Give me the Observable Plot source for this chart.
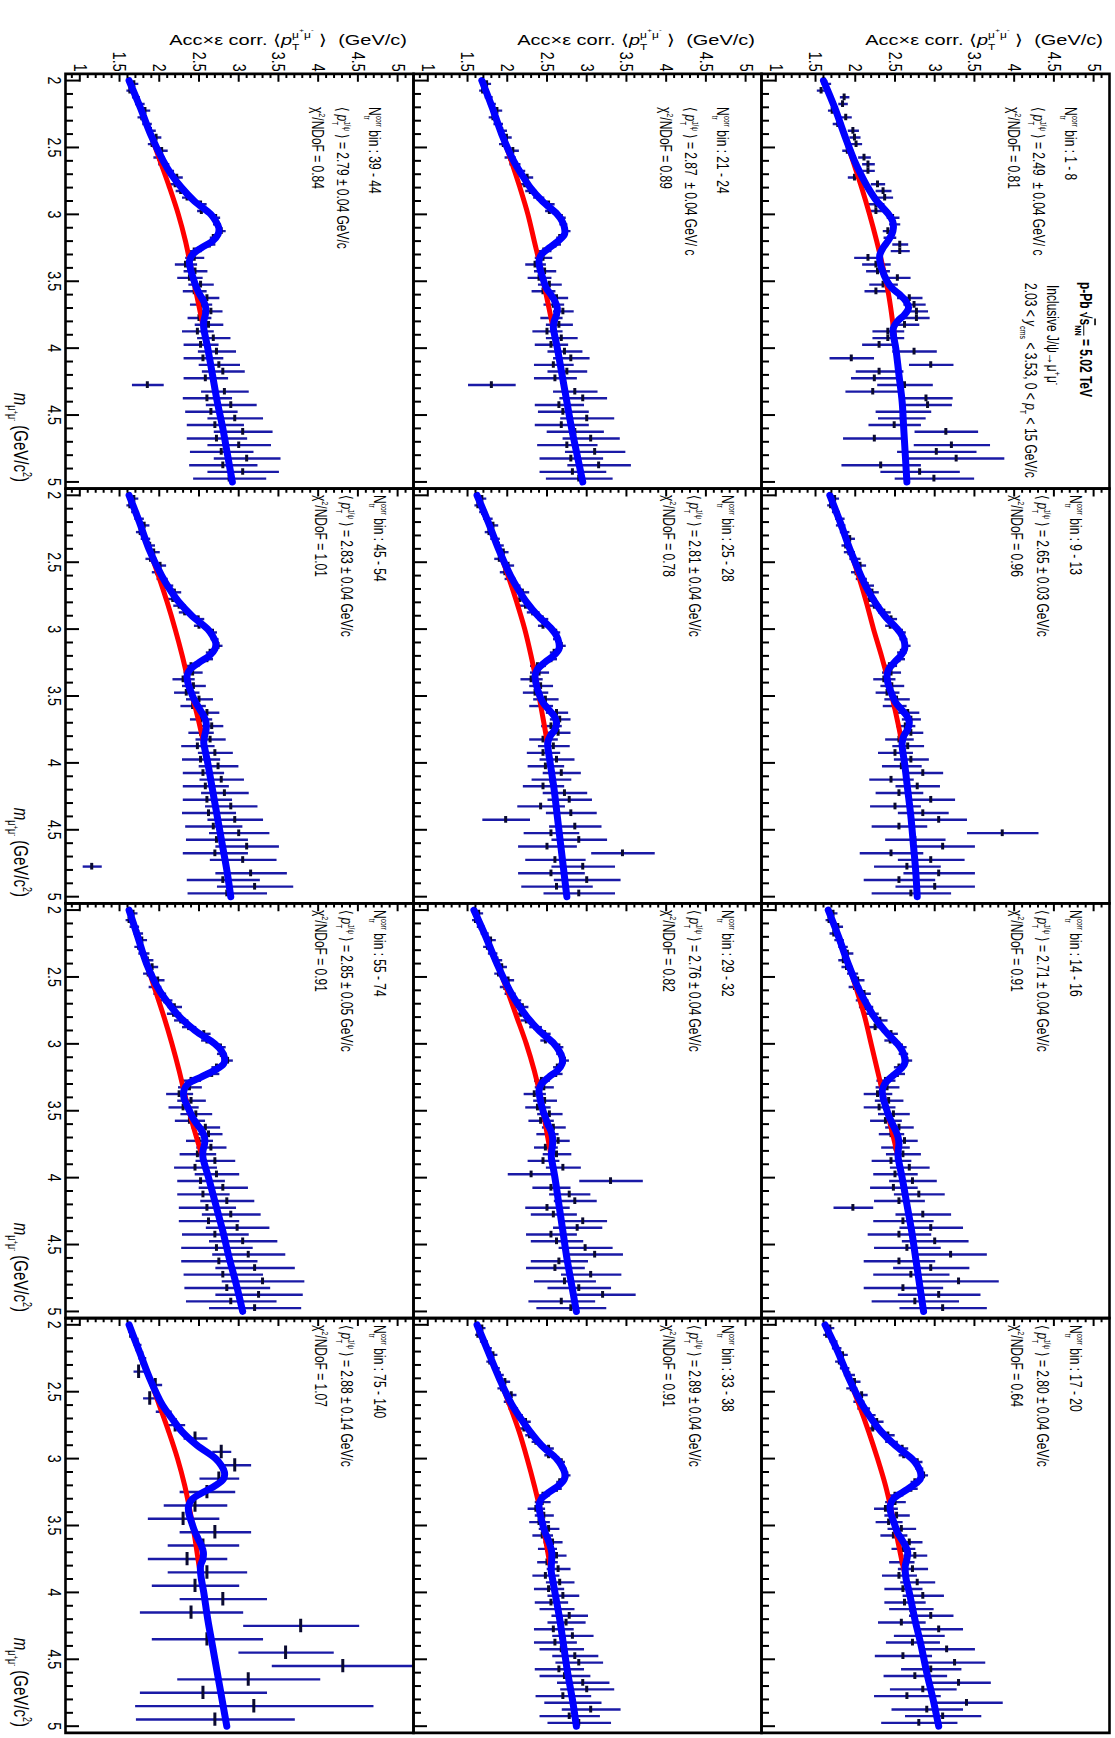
<!DOCTYPE html>
<html><head><meta charset="utf-8">
<script src="https://cdn.jsdelivr.net/npm/d3@7"></script>
<script src="https://cdn.jsdelivr.net/npm/@observablehq/plot@0.6"></script>
<style>
html,body{margin:0;padding:0;overflow:hidden;background:#fff;width:1115px;height:1738px;}
#fig{position:absolute;left:0;top:0;width:1738px;height:1115px;transform-origin:0 0;transform:translate(1115px,0) rotate(90deg);}
#fig svg path,#fig svg line,#fig svg rect{vector-effect:non-scaling-stroke;}
#fig svg text{font-family:"Liberation Sans",Arial,sans-serif;}
</style></head><body><div id="fig"></div><script>
// ---------------- labels ----------------
const binLabels = ["1 - 8","9 - 13","14 - 16","17 - 20","21 - 24","25 - 28","29 - 32","33 - 38","39 - 44","45 - 54","55 - 74","75 - 140"];
const meanText = ["= 2.49  \u00b1 0.04 GeV/ c","= 2.65 \u00b1 0.03 GeV/c","= 2.71 \u00b1 0.04 GeV/c","= 2.80 \u00b1 0.04 GeV/c",
  "= 2.87  \u00b1 0.04 GeV/ c","= 2.81 \u00b1 0.04 GeV/c","= 2.76 \u00b1 0.04 GeV/c","= 2.89 \u00b1 0.04 GeV/c",
  "= 2.79 \u00b1 0.04 GeV/c","= 2.83 \u00b1 0.04 GeV/c","= 2.85 \u00b1 0.05 GeV/c","= 2.88 \u00b1 0.14 GeV/c"];
const chi2 = ["0.81","0.96","0.91","0.64","0.89","0.78","0.82","0.91","0.84","1.01","0.91","1.07"];

const massMajor = [2, 2.5, 3, 3.5, 4, 4.5, 5];
const massMinor = [2.1,2.2,2.3,2.4,2.6,2.7,2.8,2.9,3.1,3.2,3.3,3.4,3.6,3.7,3.8,3.9,4.1,4.2,4.3,4.4,4.6,4.7,4.8,4.9];
const ptMajor = [1, 1.5, 2, 2.5, 3, 3.5, 4, 4.5, 5];
const ptMinor = [0.9,1.1,1.2,1.3,1.4,1.6,1.7,1.8,1.9,2.1,2.2,2.3,2.4,2.6,2.7,2.8,2.9,3.1,3.2,3.3,3.4,3.6,3.7,3.8,3.9,4.1,4.2,4.3,4.4,4.6,4.7,4.8,4.9,5.1];

// ---------------- data points: mass bin centres, <pT>, error ----------------
const massCenters = [2.025,2.075,2.125,2.175,2.225,2.275,2.325,2.375,2.425,2.475,2.525,2.575,2.625,2.675,2.725,2.775,2.825,2.875,2.925,2.975,
  3.025,3.075,3.125,3.175,3.225,3.275,3.325,3.375,3.425,3.475,3.525,3.575,3.625,3.675,3.725,3.775,3.825,3.875,3.925,3.975,
  4.025,4.075,4.125,4.175,4.225,4.275,4.325,4.375,4.425,4.475,4.525,4.575,4.625,4.675,4.725,4.775,4.825,4.875,4.925,4.975];
const massCentersWide = [2.05,2.15,2.25,2.35,2.45,2.55,2.65,2.75,2.85,2.95,3.05,3.15,3.25,3.35,3.45,3.55,3.65,3.75,3.85,3.95,
  4.05,4.15,4.25,4.35,4.45,4.55,4.65,4.75,4.85,4.95];

const pt01 = [1.63,1.57,1.86,1.84,1.71,1.88,1.78,1.97,1.99,2.01,
  1.90,2.11,2.16,2.16,1.99,2.28,2.35,2.37,2.26,2.26,
  2.47,2.49,2.41,2.43,2.56,2.56,2.16,2.26,2.28,2.53,
  2.35,2.26,2.68,2.74,2.77,2.77,2.62,2.41,2.41,2.30,
  2.74,1.95,2.95,2.30,2.24,2.62,2.22,2.89,2.91,2.60,
  2.58,2.49,3.14,2.24,3.21,3.02,3.27,2.32,2.81,2.99];
const er01 = [0.06,0.06,0.06,0.06,0.06,0.07,0.07,0.07,0.07,0.07,
  0.07,0.08,0.08,0.08,0.09,0.09,0.10,0.10,0.10,0.10,
  0.08,0.07,0.07,0.08,0.10,0.12,0.18,0.18,0.15,0.16,
  0.18,0.15,0.16,0.14,0.14,0.16,0.18,0.20,0.20,0.22,
  0.28,0.28,0.28,0.30,0.30,0.35,0.35,0.33,0.30,0.35,
  0.30,0.33,0.40,0.40,0.48,0.50,0.60,0.50,0.50,0.50];

const pt02 = [1.74,1.69,1.75,1.80,1.81,1.86,1.93,1.88,1.92,1.99,
  2.06,2.01,2.07,2.15,2.21,2.18,2.24,2.36,2.45,2.44,
  2.58,2.60,2.64,2.58,2.55,2.43,2.45,2.36,2.46,2.40,
  2.52,2.49,2.66,2.70,2.63,2.70,2.55,2.66,2.50,2.70,
  2.58,2.85,2.45,2.78,2.55,2.95,2.50,2.85,3.05,2.55,
  3.85,2.75,3.10,2.45,2.95,2.65,3.05,2.55,3.00,2.70];
const er02 = [0.05,0.05,0.05,0.06,0.06,0.06,0.06,0.06,0.07,0.07,
  0.07,0.07,0.07,0.08,0.08,0.08,0.08,0.08,0.07,0.07,
  0.05,0.05,0.05,0.06,0.07,0.09,0.12,0.14,0.15,0.15,
  0.16,0.15,0.14,0.12,0.12,0.15,0.18,0.20,0.22,0.22,
  0.25,0.25,0.28,0.28,0.30,0.30,0.32,0.32,0.35,0.35,
  0.45,0.38,0.40,0.40,0.42,0.42,0.45,0.45,0.50,0.50];

const pt03 = [1.72,1.67,1.78,1.73,1.79,1.84,1.90,1.85,1.89,1.96,
  2.03,1.99,2.11,2.08,2.13,2.20,2.31,2.25,2.45,2.44,
  2.58,2.60,2.65,2.55,2.53,2.38,2.40,2.28,2.42,2.30,
  2.48,2.38,2.55,2.45,2.62,2.50,2.60,2.45,2.68,2.50,
  2.72,2.48,2.80,2.55,1.97,2.85,2.60,2.95,2.55,3.00,
  2.65,3.20,2.55,2.95,2.70,3.30,2.60,3.05,2.75,3.10];
const er03 = [0.05,0.05,0.06,0.06,0.06,0.06,0.07,0.07,0.07,0.07,
  0.08,0.08,0.08,0.08,0.09,0.09,0.09,0.09,0.08,0.08,
  0.06,0.06,0.06,0.07,0.09,0.12,0.15,0.18,0.18,0.20,
  0.20,0.20,0.18,0.16,0.16,0.18,0.22,0.25,0.25,0.28,
  0.30,0.30,0.32,0.32,0.25,0.35,0.38,0.40,0.40,0.42,
  0.42,0.45,0.45,0.48,0.48,0.50,0.50,0.52,0.55,0.55];

const pt04 = [1.68,1.64,1.72,1.76,1.84,1.80,1.86,1.92,1.99,1.95,
  2.08,2.04,2.10,2.17,2.27,2.22,2.41,2.45,2.59,2.61,
  2.78,2.80,2.86,2.75,2.70,2.50,2.50,2.38,2.52,2.42,
  2.58,2.48,2.68,2.60,2.75,2.58,2.72,2.55,2.78,2.60,
  2.85,2.62,2.70,2.95,2.58,3.05,2.80,2.72,3.15,2.60,
  3.25,2.95,2.75,3.30,2.85,2.65,3.40,2.90,3.10,2.80];
const er04 = [0.05,0.05,0.05,0.06,0.06,0.06,0.06,0.07,0.07,0.07,
  0.07,0.07,0.08,0.08,0.08,0.08,0.08,0.08,0.07,0.07,
  0.06,0.05,0.05,0.06,0.08,0.10,0.13,0.15,0.16,0.17,
  0.18,0.17,0.16,0.15,0.15,0.16,0.19,0.22,0.22,0.24,
  0.26,0.26,0.28,0.28,0.30,0.30,0.32,0.34,0.35,0.36,
  0.38,0.38,0.40,0.40,0.42,0.42,0.45,0.45,0.48,0.48];

const pt05 = [1.74,1.69,1.76,1.80,1.87,1.82,1.88,1.93,1.99,1.95,
  2.07,2.03,2.09,2.15,2.25,2.22,2.29,2.39,2.52,2.53,
  2.68,2.70,2.74,2.66,2.60,2.46,2.45,2.35,2.47,2.40,
  2.53,2.45,2.62,2.58,2.70,2.55,2.65,2.50,2.68,2.55,
  2.72,2.80,2.58,2.75,2.60,1.80,2.85,2.95,2.65,2.70,
  3.00,2.68,2.85,3.05,2.75,3.10,2.80,3.15,2.82,2.90];
const er05 = [0.05,0.05,0.05,0.05,0.06,0.06,0.06,0.06,0.06,0.06,
  0.07,0.07,0.07,0.07,0.07,0.07,0.07,0.07,0.07,0.06,
  0.05,0.05,0.05,0.05,0.07,0.09,0.11,0.13,0.14,0.15,
  0.15,0.15,0.14,0.13,0.13,0.14,0.17,0.19,0.20,0.21,
  0.22,0.23,0.25,0.25,0.27,0.30,0.28,0.30,0.31,0.32,
  0.34,0.34,0.36,0.36,0.38,0.38,0.40,0.40,0.42,0.42];

const pt06 = [1.68,1.63,1.69,1.75,1.82,1.77,1.84,1.89,1.95,1.90,
  2.01,1.97,2.03,2.09,2.19,2.16,2.23,2.32,2.44,2.45,
  2.61,2.62,2.68,2.59,2.55,2.38,2.40,2.30,2.42,2.35,
  2.48,2.42,2.62,2.66,2.55,2.64,2.45,2.58,2.45,2.62,
  2.48,2.68,2.55,2.45,2.72,2.78,2.42,2.80,1.98,2.85,
  2.55,2.90,2.50,3.45,2.60,2.95,2.55,3.00,2.62,2.90];
const er06 = [0.05,0.05,0.05,0.06,0.06,0.06,0.06,0.06,0.06,0.07,
  0.07,0.07,0.07,0.07,0.08,0.08,0.08,0.08,0.07,0.07,
  0.05,0.05,0.05,0.06,0.07,0.10,0.12,0.14,0.15,0.16,
  0.16,0.15,0.14,0.13,0.13,0.15,0.18,0.20,0.21,0.22,
  0.23,0.24,0.25,0.26,0.28,0.28,0.30,0.32,0.30,0.33,
  0.35,0.35,0.37,0.40,0.38,0.40,0.42,0.42,0.45,0.45];

const pt07 = [1.64,1.60,1.66,1.71,1.79,1.75,1.81,1.87,1.93,1.89,
  2.01,1.97,2.03,2.10,2.19,2.17,2.24,2.35,2.47,2.48,
  2.65,2.66,2.72,2.63,2.61,2.43,2.46,2.34,2.47,2.38,
  2.53,2.42,2.58,2.50,2.64,2.48,2.62,2.45,2.70,2.30,
  3.30,2.55,2.78,2.85,2.50,2.58,2.95,2.88,2.55,2.62,
  2.98,3.10,2.65,2.60,3.05,2.72,2.90,3.20,2.68,2.80];
const er07 = [0.05,0.05,0.05,0.05,0.06,0.06,0.06,0.06,0.06,0.06,
  0.07,0.07,0.07,0.07,0.07,0.08,0.08,0.08,0.07,0.07,
  0.05,0.05,0.05,0.06,0.08,0.10,0.12,0.14,0.15,0.16,
  0.16,0.16,0.15,0.14,0.14,0.15,0.18,0.20,0.22,0.30,
  0.40,0.24,0.26,0.27,0.28,0.29,0.30,0.31,0.32,0.33,
  0.34,0.35,0.36,0.37,0.38,0.39,0.40,0.41,0.42,0.44];

const pt08 = [1.68,1.63,1.70,1.75,1.82,1.78,1.85,1.90,1.97,1.93,
  2.05,2.01,2.07,2.13,2.23,2.21,2.28,2.36,2.52,2.52,
  2.68,2.70,2.75,2.66,2.62,2.45,2.44,2.36,2.46,2.40,
  2.52,2.44,2.57,2.50,2.62,2.50,2.64,2.48,2.66,2.52,
  2.70,2.55,2.62,2.78,2.74,2.58,2.82,2.60,2.68,2.85,
  2.90,2.65,2.72,2.95,3.00,2.70,2.82,3.05,2.78,2.90];
const er08 = [0.04,0.04,0.05,0.05,0.05,0.05,0.05,0.05,0.06,0.06,
  0.06,0.06,0.06,0.06,0.06,0.06,0.06,0.06,0.06,0.06,
  0.04,0.04,0.04,0.05,0.06,0.08,0.10,0.11,0.12,0.13,
  0.13,0.13,0.12,0.12,0.12,0.13,0.15,0.17,0.18,0.19,
  0.20,0.21,0.22,0.23,0.24,0.25,0.26,0.27,0.28,0.29,
  0.30,0.31,0.32,0.33,0.34,0.35,0.36,0.37,0.38,0.40];

const pt09 = [1.68,1.63,1.70,1.75,1.82,1.78,1.84,1.89,1.96,1.91,
  2.03,1.99,2.05,2.11,2.22,2.20,2.27,2.35,2.52,2.53,
  2.71,2.72,2.78,2.68,2.63,2.44,2.44,2.33,2.45,2.38,
  2.52,2.44,2.60,2.52,2.65,2.50,2.62,2.48,2.68,2.52,
  2.72,2.55,2.75,2.80,2.58,1.85,2.82,2.60,2.90,2.65,
  2.95,2.70,3.05,2.72,3.00,2.78,3.10,2.80,3.05,2.88];
const er09 = [0.05,0.05,0.05,0.06,0.06,0.06,0.06,0.06,0.06,0.06,
  0.07,0.07,0.07,0.07,0.07,0.07,0.07,0.07,0.07,0.06,
  0.05,0.05,0.05,0.05,0.07,0.09,0.12,0.14,0.15,0.16,
  0.16,0.15,0.15,0.14,0.14,0.15,0.18,0.20,0.21,0.22,
  0.24,0.25,0.26,0.27,0.28,0.20,0.30,0.31,0.32,0.33,
  0.35,0.36,0.37,0.38,0.40,0.40,0.42,0.43,0.45,0.46];

const pt10 = [1.68,1.63,1.69,1.74,1.81,1.76,1.82,1.88,1.93,1.89,
  2.01,1.97,2.03,2.09,2.19,2.17,2.25,2.32,2.49,2.50,
  2.67,2.69,2.74,2.64,2.60,2.40,2.42,2.30,2.43,2.34,
  2.50,2.42,2.60,2.52,2.66,2.52,2.64,2.48,2.70,2.52,
  2.74,2.55,2.78,2.58,2.82,2.60,2.90,2.62,2.95,2.68,
  3.00,2.72,3.10,2.70,3.05,1.15,3.15,2.80,3.20,2.85];
const er10 = [0.05,0.05,0.05,0.06,0.06,0.06,0.06,0.06,0.07,0.07,
  0.07,0.07,0.07,0.08,0.08,0.08,0.08,0.08,0.07,0.07,
  0.05,0.05,0.05,0.06,0.07,0.10,0.12,0.14,0.15,0.16,
  0.17,0.16,0.15,0.14,0.14,0.16,0.19,0.21,0.22,0.24,
  0.25,0.26,0.28,0.29,0.30,0.31,0.33,0.34,0.35,0.36,
  0.38,0.39,0.40,0.41,0.42,0.12,0.45,0.46,0.48,0.50];

const pt11 = [1.67,1.62,1.68,1.73,1.78,1.74,1.80,1.85,1.91,1.86,
  1.98,1.94,2.00,2.07,2.19,2.18,2.27,2.37,2.56,2.60,
  2.77,2.78,2.86,2.72,2.66,2.40,2.38,2.25,2.40,2.30,
  2.46,2.38,2.58,2.62,2.50,2.65,2.48,2.70,2.45,2.72,
  2.52,2.80,2.55,2.85,2.60,2.90,2.62,2.98,2.70,3.05,
  2.72,3.12,2.75,3.20,2.80,3.30,2.85,3.25,2.90,3.20];
const er11 = [0.05,0.05,0.06,0.06,0.06,0.06,0.07,0.07,0.07,0.07,
  0.08,0.08,0.08,0.09,0.09,0.09,0.09,0.09,0.08,0.08,
  0.06,0.06,0.06,0.07,0.09,0.12,0.15,0.17,0.18,0.19,
  0.20,0.19,0.18,0.17,0.17,0.19,0.23,0.25,0.27,0.28,
  0.30,0.31,0.33,0.34,0.36,0.37,0.38,0.40,0.42,0.43,
  0.45,0.46,0.48,0.50,0.50,0.52,0.54,0.55,0.57,0.58];

// highest multiplicity bin: coarser mass bins
const pt12 = [1.64,1.72,1.78,1.74,1.95,1.88,2.05,2.20,2.45,2.78,
  2.95,2.75,2.60,2.45,2.30,2.70,2.55,2.35,2.60,2.45,
  2.80,2.40,3.78,2.60,3.59,4.31,3.12,2.55,3.19,2.70];
const er12 = [0.04,0.05,0.05,0.07,0.08,0.09,0.10,0.12,0.15,0.12,
  0.20,0.25,0.35,0.40,0.45,0.45,0.45,0.50,0.50,0.55,
  0.55,0.65,0.73,0.70,0.60,0.90,0.90,0.80,1.50,1.00];

// ---------------- fit curves ----------------
const curveMass = [2.0,2.2,2.4,2.6,2.7,2.8,2.9,3.0,3.05,3.1,3.15,3.2,3.25,3.3,3.35,3.4,3.5,3.55,3.6,3.65,3.7,3.75,3.8,3.85,3.9,4.0,4.2,4.4,4.6,4.8,5.0];
const blue01 = [1.60,1.74,1.86,1.99,2.07,2.16,2.27,2.42,2.47,2.48,2.46,2.41,2.35,2.31,2.31,2.33,2.40,2.46,2.56,2.64,2.67,2.62,2.53,2.48,2.48,2.51,2.55,2.59,2.61,2.63,2.65];
const blue02 = [1.68,1.81,1.93,2.07,2.15,2.25,2.37,2.53,2.59,2.62,2.62,2.57,2.49,2.42,2.40,2.41,2.47,2.51,2.58,2.65,2.68,2.66,2.61,2.59,2.595,2.62,2.66,2.70,2.73,2.76,2.78];
const blue03 = [1.66,1.79,1.91,2.05,2.14,2.24,2.37,2.53,2.59,2.62,2.62,2.55,2.45,2.37,2.34,2.35,2.40,2.43,2.47,2.51,2.54,2.55,2.54,2.54,2.555,2.59,2.65,2.71,2.76,2.81,2.86];
const blue04 = [1.62,1.78,1.92,2.09,2.20,2.33,2.50,2.71,2.78,2.82,2.82,2.73,2.60,2.48,2.44,2.445,2.50,2.53,2.58,2.63,2.66,2.65,2.63,2.63,2.64,2.68,2.75,2.83,2.90,2.98,3.05];
const blue05 = [1.68,1.81,1.93,2.08,2.18,2.29,2.44,2.63,2.69,2.72,2.72,2.64,2.53,2.43,2.40,2.41,2.46,2.49,2.55,2.60,2.63,2.62,2.59,2.58,2.595,2.63,2.69,2.75,2.81,2.88,2.95];
const blue06 = [1.62,1.76,1.89,2.04,2.135,2.245,2.385,2.56,2.62,2.65,2.65,2.58,2.47,2.38,2.35,2.36,2.41,2.45,2.52,2.59,2.62,2.60,2.54,2.51,2.515,2.54,2.59,2.63,2.67,2.71,2.75];
const blue07 = [1.58,1.73,1.87,2.03,2.13,2.25,2.40,2.59,2.65,2.69,2.69,2.63,2.52,2.43,2.40,2.41,2.45,2.48,2.51,2.55,2.57,2.57,2.56,2.555,2.57,2.60,2.65,2.70,2.75,2.81,2.87];
const blue08 = [1.62,1.76,1.90,2.06,2.17,2.29,2.43,2.62,2.68,2.72,2.72,2.65,2.53,2.43,2.40,2.41,2.45,2.475,2.51,2.54,2.56,2.56,2.555,2.555,2.57,2.60,2.66,2.71,2.76,2.82,2.87];
const blue09 = [1.62,1.76,1.89,2.05,2.15,2.28,2.44,2.65,2.71,2.75,2.74,2.67,2.53,2.42,2.38,2.39,2.44,2.47,2.51,2.56,2.585,2.58,2.56,2.56,2.575,2.61,2.67,2.73,2.80,2.86,2.92];
const blue10 = [1.62,1.75,1.87,2.03,2.13,2.25,2.41,2.61,2.67,2.71,2.70,2.63,2.50,2.39,2.35,2.36,2.42,2.46,2.51,2.56,2.59,2.59,2.57,2.56,2.575,2.61,2.67,2.73,2.79,2.85,2.90];
const blue11 = [1.62,1.73,1.84,2.00,2.12,2.26,2.45,2.70,2.78,2.82,2.81,2.69,2.52,2.36,2.31,2.31,2.38,2.42,2.475,2.535,2.57,2.57,2.55,2.55,2.57,2.62,2.71,2.80,2.88,2.97,3.05];
const blue12 = [1.62,1.75,1.88,2.04,2.16,2.29,2.475,2.71,2.78,2.82,2.81,2.71,2.56,2.42,2.37,2.37,2.42,2.45,2.49,2.53,2.555,2.55,2.52,2.52,2.53,2.56,2.61,2.67,2.73,2.79,2.85];

const redMass = [2.0,2.2,2.4,2.6,2.8,3.0,3.2,3.4,3.6,3.8,4.0,4.2,4.4,4.6,4.8,5.0];
const red01 = [1.60,1.74,1.86,1.97,2.08,2.18,2.27,2.35,2.42,2.47,2.51,2.55,2.59,2.61,2.63,2.65];
const red02 = [1.68,1.81,1.93,2.04,2.14,2.23,2.33,2.42,2.50,2.57,2.62,2.66,2.70,2.73,2.76,2.78];
const red03 = [1.66,1.79,1.91,2.02,2.12,2.20,2.28,2.36,2.44,2.52,2.59,2.65,2.71,2.76,2.81,2.86];
const red04 = [1.62,1.78,1.92,2.05,2.17,2.28,2.38,2.46,2.53,2.60,2.68,2.75,2.83,2.90,2.98,3.05];
const red05 = [1.68,1.81,1.93,2.05,2.16,2.26,2.34,2.42,2.49,2.56,2.63,2.69,2.75,2.81,2.88,2.95];
const red06 = [1.62,1.76,1.89,2.01,2.12,2.22,2.30,2.37,2.43,2.49,2.54,2.59,2.63,2.67,2.71,2.75];
const red07 = [1.58,1.73,1.87,2.00,2.12,2.24,2.34,2.42,2.48,2.54,2.60,2.65,2.70,2.75,2.81,2.87];
const red08 = [1.62,1.76,1.90,2.03,2.15,2.25,2.34,2.42,2.48,2.54,2.60,2.66,2.71,2.76,2.82,2.87];
const red09 = [1.62,1.76,1.89,2.01,2.13,2.24,2.33,2.40,2.47,2.54,2.61,2.67,2.73,2.80,2.86,2.92];
const red10 = [1.62,1.75,1.87,1.99,2.10,2.20,2.29,2.37,2.46,2.54,2.61,2.67,2.73,2.79,2.85,2.90];
const red11 = [1.62,1.73,1.84,1.95,2.06,2.16,2.25,2.33,2.42,2.52,2.62,2.71,2.80,2.88,2.97,3.05];
const red12 = [1.62,1.75,1.88,2.00,2.12,2.23,2.32,2.39,2.45,2.50,2.56,2.61,2.67,2.73,2.79,2.85];

const ptSeries = [pt01,pt02,pt03,pt04,pt05,pt06,pt07,pt08,pt09,pt10,pt11,pt12];
const errSeries = [er01,er02,er03,er04,er05,er06,er07,er08,er09,er10,er11,er12];
const centerSeries = [massCenters,massCenters,massCenters,massCenters,massCenters,massCenters,massCenters,massCenters,massCenters,massCenters,massCenters,massCentersWide];
const binHalfWidth = [0.025,0.025,0.025,0.025,0.025,0.025,0.025,0.025,0.025,0.025,0.025,0.05];
const blueSeries = [blue01,blue02,blue03,blue04,blue05,blue06,blue07,blue08,blue09,blue10,blue11,blue12];
const redSeries = [red01,red02,red03,red04,red05,red06,red07,red08,red09,red10,red11,red12];

// ---------------- geometry ----------------
const s = 0.75;              // horizontal compression of the original figure
const W = 1738, H = 1115, Wi = W / s;
const mL = 73 / s, mR = 5 / s, mT = 5, mB = 66;
const panelW = (Wi - mL - mR) / 4, panelH = (H - mT - mB) / 3;

// ---------------- tables ----------------
const pts = [], blues = [], reds = [];
for (let p = 0; p < 12; p++) {
  const row = Math.floor(p / 4), col = p % 4;
  ptSeries[p].forEach((v, i) => pts.push({p, row, col, m: centerSeries[p][i], hw: binHalfWidth[p], pt: v, e: errSeries[p][i]}));
  blueSeries[p].forEach((v, i) => blues.push({p, row, col, m: curveMass[i], v}));
  redSeries[p].forEach((v, i) => reds.push({p, row, col, m: redMass[i], v}));
}
const F = {fx: "col", fy: "row"};

const svg = Plot.plot({
  width: Wi, height: H, marginLeft: mL, marginRight: mR, marginTop: mT, marginBottom: mB,
  style: {fontFamily: "Liberation Sans, Arial, sans-serif", fontSize: "19px", background: "white", color: "black"},
  x: {domain: [1.95, 5.05]},
  y: {domain: [0.82, 5.2]},
  fx: {domain: [0, 1, 2, 3], padding: 0, axis: null},
  fy: {domain: [0, 1, 2], padding: 0, axis: null},
  marks: [
    Plot.ruleX(pts, {...F, x: "m", y1: d => d.pt - d.e, y2: d => d.pt + d.e, stroke: "#1a1aa6", strokeWidth: 2.4, clip: "frame"}),
    Plot.ruleY(pts, {...F, y: "pt", x1: d => d.m - d.hw, x2: d => d.m + d.hw, stroke: "#0a0a30", strokeWidth: 3, clip: "frame"}),
    Plot.line(reds, {...F, x: "m", y: "v", z: "p", stroke: "#ff0000", strokeWidth: 5, curve: "catmull-rom", clip: "frame"}),
    Plot.line(blues, {...F, x: "m", y: "v", z: "p", stroke: "#0000ff", strokeWidth: 7, curve: "catmull-rom", clip: "frame"}),
    Plot.axisX({anchor: "bottom", ticks: massMajor, tickSize: -13, strokeWidth: 2, fill: "none", label: null, facetAnchor: null}),
    Plot.axisX({anchor: "bottom", ticks: massMinor, tickSize: -7, strokeWidth: 2, fill: "none", label: null, facetAnchor: null}),
    Plot.axisX({anchor: "bottom", ticks: massMajor, tickSize: 0, tickPadding: 4, label: null, tickFormat: d => String(d)}),
    Plot.axisY({anchor: "left", ticks: ptMajor, tickSize: -11, strokeWidth: 2, fill: "none", label: null, facetAnchor: null}),
    Plot.axisY({anchor: "left", ticks: ptMinor, tickSize: -6, strokeWidth: 2, fill: "none", label: null, facetAnchor: null}),
    Plot.axisY({anchor: "left", ticks: ptMajor, tickSize: 0, tickPadding: 3, label: null, tickFormat: d => String(d)}),
    Plot.frame({stroke: "black", strokeWidth: 2.6})
  ]
});
svg.setAttribute("width", W);
svg.setAttribute("height", H);
svg.setAttribute("preserveAspectRatio", "none");
svg.style.maxWidth = "none"; svg.style.width = W + "px"; svg.style.height = H + "px";
document.getElementById("fig").appendChild(svg);

// ---------------- rich text helper ----------------
const root = d3.select(svg).append("g").attr("class", "annotations").attr("text-anchor", "start");
function rich(x, y, segs, fs, opt = {}) {
  const g = root.append("g");
  const inner = g.append("g");
  let cx = 0;
  const put = (txt, dx, dy, size, o) => {
    const t = inner.append("text").attr("x", dx).attr("y", dy).attr("font-size", size)
      .attr("text-anchor", "start").attr("fill", "black").text(txt);
    if (o.it) t.attr("font-style", "italic");
    if (o.b) t.attr("font-weight", "bold");
    if (o.ov) t.attr("text-decoration", "overline");
    return t.node().getComputedTextLength();
  };
  for (const sg of segs) {
    if (sg.t !== undefined) cx += put(sg.t, cx, sg.dy || 0, fs * (sg.k || 1), sg);
    else {
      const ss = fs * (sg.k || 0.6);
      let w = 0;
      if (sg.sup !== undefined) w = Math.max(w, put(sg.sup, cx, -fs * (sg.up || 0.45), ss, sg));
      if (sg.sub !== undefined) w = Math.max(w, put(sg.sub, cx, fs * (sg.dn || 0.3), ss, sg));
      cx += w + (sg.gap || 0);
    }
  }
  inner.attr("transform", `translate(${opt.end ? -cx : 0},0)`);
  g.attr("transform", `translate(${x},${y})${opt.rot ? ` rotate(${opt.rot})` : ""}`);
}

// panel annotations
for (let p = 0; p < 12; p++) {
  const row = Math.floor(p / 4), col = p % 4;
  const x0 = mL + col * panelW, y0 = mT + row * panelH;
  const dx = (col === 0 ? 34 : 7) / s;
  const b = col === 0 ? [45, 77, 102] : [40, 73, 99];
  const fs = 16;
  rich(x0 + dx, y0 + b[0], [{t: "N"}, {sup: "corr", sub: "tr", k: 0.55}, {t: " bin : " + binLabels[p]}], fs);
  rich(x0 + dx, y0 + b[1], [{t: "\u27e8 "}, {t: "p", it: true}, {sup: "J/\u03c8", sub: "T", k: 0.55}, {t: " \u27e9 " + meanText[p]}], fs);
  rich(x0 + dx, y0 + b[2], [{t: "\u03c7"}, {sup: "2", k: 0.6}, {t: "/NDoF = " + chi2[p]}], fs);
}
// global labels (top-left panel)
{
  const x0 = mL;
  rich(x0 + 209 / s, mT + 30, [{t: "p-Pb ", b: true}, {t: "\u221a", b: true}, {t: "s", b: true, ov: true}, {sub: "NN", b: true, ov: true, k: 0.6}, {t: " = 5.02 TeV", b: true}], 16);
  rich(x0 + 212 / s, mT + 63, [{t: "Inclusive J/\u03c8\u2192\u03bc"}, {sup: "+"}, {t: "\u03bc"}, {sup: "-"}], 16);
  rich(x0 + 210 / s, mT + 85, [{t: "2.03 < "}, {t: "y", it: true}, {sub: "cms"}, {t: " < 3.53, 0 < "}, {t: "p", it: true}, {sub: "T"}, {t: " < 15 GeV/c"}], 16);
}
// y titles (one per row)
for (let r = 0; r < 3; r++) {
  const yTop = mT + r * panelH;
  rich(45 / s, yTop + 7, [{t: "Acc\u00d7\u03b5 corr. \u27e8"}, {t: "p", it: true}, {sup: "\u03bc", sub: "T", k: 0.6},
    {sup: "+", k: 0.4, up: 0.85}, {sup: "\u03bc", k: 0.6}, {sup: "-", k: 0.4, up: 0.85}, {t: " \u27e9  (GeV/c)"}], 20, {rot: -90, end: true});
}
// x titles (one per column)
for (let c = 0; c < 4; c++) {
  const xR = mL + (c + 1) * panelW;
  rich(xR - 6 / s, H - 14, [{t: "m", it: true}, {sub: "\u03bc", k: 0.6}, {sub: "+", k: 0.4, dn: 0.05}, {sub: "\u03bc", k: 0.6}, {sub: "-", k: 0.4, dn: 0.05}, {t: " (GeV/c"}, {sup: "2"}, {t: ")"}], 20, {end: true});
}
</script></body></html>
